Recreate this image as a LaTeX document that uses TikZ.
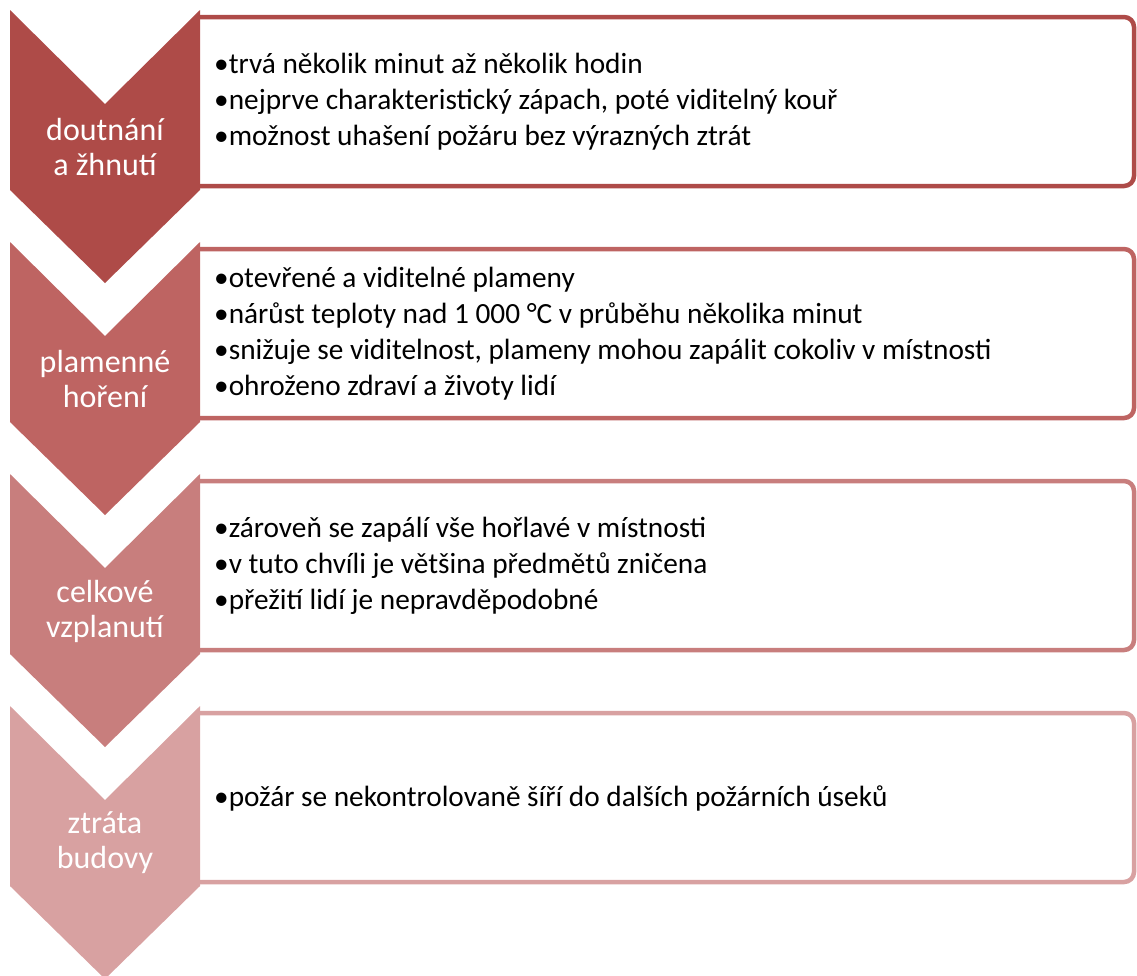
\documentclass[tikz,border=0pt]{standalone}
\usepackage{fontspec}
\setmainfont{Carlito}
\usetikzlibrary{positioning}
\definecolor{r1}{HTML}{AE4B48}
\definecolor{r2}{HTML}{BE6462}
\definecolor{r3}{HTML}{C87E7D}
\definecolor{r4}{HTML}{D8A1A1}
\begin{document}
\begin{tikzpicture}[x=1pt, y=-1pt,
	stage/.style={text=white, align=center, font=\fontsize{32}{35}\selectfont},
	items/.style={text=black, align=left, anchor=west, inner sep=0pt, font=\fontsize{29.3}{36}\selectfont},
	frame/.style={line width=4.5pt, rounded corners=10pt}
]
			\useasboundingbox (0,0) rectangle (1137,975);
			
			% row 1
			\draw[frame, draw=r1] (200,17) -- (1134,17) -- (1134,186) -- (200,186);
			\fill[r1] (10,10) -- (105,104) -- (200,10) -- (200,190) -- (105,283) -- (10,190) -- cycle;
			\node[stage] (stage1) at (105,147) {doutnání\\a žhnutí};
			\node[items] (list1) at (214,102) {•trvá několik minut až několik hodin\\•nejprve charakteristický zápach, poté viditelný kouř\\•možnost uhašení požáru bez výrazných ztrát};
			
			% row 2
			\draw[frame, draw=r2] (200,249) -- (1134,249) -- (1134,418) -- (200,418);
			\fill[r2] (10,242) -- (105,336) -- (200,242) -- (200,422) -- (105,515) -- (10,422) -- cycle;
			\node[stage] (stage2) at (105,379) {plamenné\\hoření};
			\node[items] (list2) at (214,334) {•otevřené a viditelné plameny\\•nárůst teploty nad 1~000 °C v průběhu několika minut\\•snižuje se viditelnost, plameny mohou zapálit cokoliv v místnosti\\•ohroženo zdraví a životy lidí};
			
			% row 3
			\draw[frame, draw=r3] (200,481) -- (1134,481) -- (1134,650) -- (200,650);
			\fill[r3] (10,474) -- (105,568) -- (200,474) -- (200,654) -- (105,747) -- (10,654) -- cycle;
			\node[stage] (stage3) at (105,611) {celkové\\vzplanutí};
			\node[items] (list3) at (214,566) {•zároveň se zapálí vše hořlavé v místnosti\\•v tuto chvíli je většina předmětů zničena\\•přežití lidí je nepravděpodobné};
			
			% row 4
			\draw[frame, draw=r4] (200,713) -- (1134,713) -- (1134,882) -- (200,882);
			\fill[r4] (10,706) -- (105,800) -- (200,706) -- (200,886) -- (105,979) -- (10,886) -- cycle;
			\node[stage] (stage4) at (105,843) {ztráta\\budovy};
			\node[items] (list4) at (214,798) {•požár se nekontrolovaně šíří do dalších požárních úseků};
			
\end{tikzpicture}
\end{document}
